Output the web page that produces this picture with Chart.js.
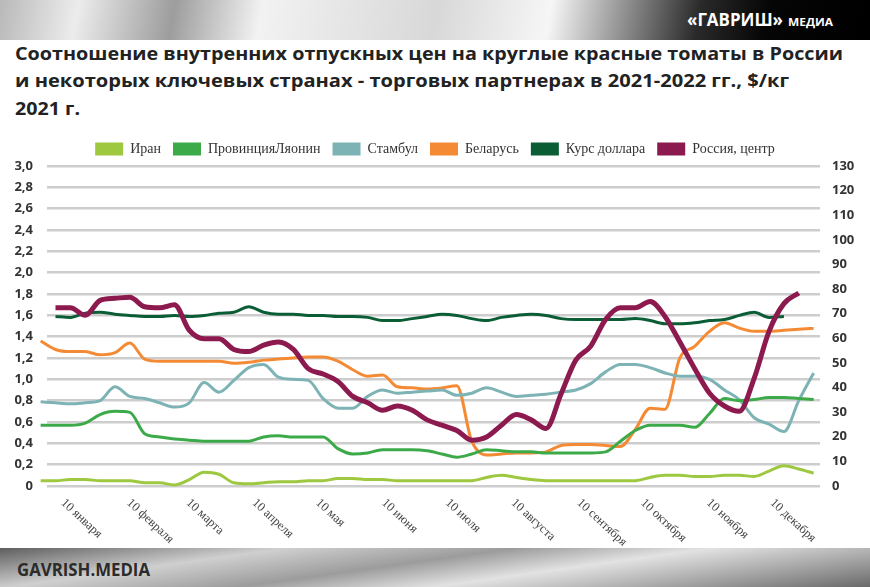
<!DOCTYPE html>
<html>
<head>
<meta charset="utf-8">
<script src="https://cdn.jsdelivr.net/npm/chart.js@4"></script>
<style>
  body { margin: 0; }
  #page { position: relative; width: 870px; height: 587px; overflow: hidden; background: #fff; font-family: "Open Sans", sans-serif; }
  #band-top { position: absolute; left: 0; top: 0; width: 870px; height: 40px;
    background: linear-gradient(100deg, #b8b8b8 0%, #ececec 9%, #9d9d9d 20%, #f2f2f2 30%, #d8d8d8 50%, #f6f6f6 63%, #8a8a8a 72%, #2a2a2a 80%, #050505 88%, #000 100%); }
  #band-bot { position: absolute; left: 0; top: 548px; width: 870px; height: 39px;
    background: linear-gradient(172deg, #5e5e5e 0%, #cfcfcf 25%, #9c9c9c 45%, #e2e2e2 62%, #b0b0b0 78%, #6a6a6a 100%); }
  .fit { position: absolute; white-space: nowrap; transform-origin: 0 50%; font-weight: 700; }
  canvas { position: absolute; left: 0; top: 130px; }
</style>
</head>
<body>
<div id="page">
  <div id="band-top"></div>
  <span class="fit" data-w="96" style="left:687px; top:9px; font-size:17px; line-height:22px; color:#fff;">«ГАВРИШ»</span>
  <span class="fit" data-w="45" style="left:788px; top:14px; font-size:10px; line-height:16px; color:#fff;">МЕДИА</span>

  <span class="fit" data-w="828" style="left:15px; top:42px; font-size:18px; line-height:22px; color:#222;">Соотношение внутренних отпускных цен на круглые красные томаты в России</span>
  <span class="fit" data-w="774" style="left:15px; top:69px; font-size:18px; line-height:22px; color:#222;">и некоторых ключевых странах - торговых партнерах в 2021-2022 гг., $/кг</span>
  <span class="fit" data-w="65" style="left:15px; top:97px; font-size:18px; line-height:22px; color:#222;">2021 г.</span>

  <canvas id="chart" width="870" height="418"></canvas>

  <div id="band-bot"></div>
  <span class="fit" data-w="133" style="left:17px; top:558px; font-size:18px; line-height:22px; color:#2b2b2b;">GAVRISH.MEDIA</span>
</div>

<script>
// weekly samples, day of year (0 = 1 Jan 2021)
const days = [0, 7, 14, 21, 28, 35, 42, 49, 56, 63, 70, 77, 84, 91, 98, 105, 112, 119, 126, 133,
  140, 147, 154, 161, 168, 175, 182, 189, 196, 203, 210, 217, 224, 231, 238, 245, 252, 259, 266,
  273, 280, 287, 294, 301, 308, 315, 322, 329, 336, 343, 350, 357, 364];

// tick labels on the 10th of each month
const monthDays = [9, 40, 68, 99, 129, 160, 190, 221, 252, 282, 313, 343];
const monthLabels = ['10 января', '10 февраля', '10 марта', '10 апреля', '10 мая', '10 июня',
  '10 июля', '10 августа', '10 сентября', '10 октября', '10 ноября', '10 декабря'];

const iran = [0.05, 0.05, 0.06, 0.06, 0.05, 0.05, 0.05, 0.03, 0.03, 0.01, 0.06, 0.13, 0.11, 0.03,
  0.02, 0.03, 0.04, 0.04, 0.05, 0.05, 0.07, 0.07, 0.06, 0.06, 0.05, 0.05, 0.05, 0.05, 0.05, 0.05,
  0.08, 0.10, 0.08, 0.06, 0.05, 0.05, 0.05, 0.05, 0.05, 0.05, 0.05, 0.08, 0.10, 0.10, 0.09, 0.09,
  0.10, 0.10, 0.09, 0.14, 0.19, 0.16, 0.12];

const liaoning = [0.57, 0.57, 0.57, 0.59, 0.67, 0.70, 0.69, 0.49, 0.46, 0.44, 0.43, 0.42, 0.42, 0.42,
  0.42, 0.46, 0.47, 0.46, 0.46, 0.46, 0.35, 0.30, 0.31, 0.34, 0.34, 0.34, 0.33, 0.30, 0.27, 0.30,
  0.34, 0.33, 0.32, 0.32, 0.31, 0.31, 0.31, 0.31, 0.32, 0.42, 0.52, 0.57, 0.57, 0.57, 0.55, 0.68,
  0.82, 0.80, 0.81, 0.83, 0.83, 0.82, 0.81];

const istanbul = [0.79, 0.78, 0.77, 0.78, 0.80, 0.93, 0.84, 0.82, 0.78, 0.74, 0.78, 0.97, 0.88, 0.99,
  1.11, 1.14, 1.02, 1.00, 0.99, 0.82, 0.73, 0.73, 0.84, 0.90, 0.87, 0.88, 0.89, 0.90, 0.85, 0.87,
  0.92, 0.88, 0.84, 0.85, 0.86, 0.88, 0.90, 0.96, 1.07, 1.14, 1.14, 1.11, 1.06, 1.03, 1.03, 1.00,
  0.90, 0.81, 0.64, 0.58, 0.51, 0.80, 1.06];

const belarus = [1.36, 1.28, 1.26, 1.26, 1.23, 1.25, 1.34, 1.19, 1.17, 1.17, 1.17, 1.17, 1.17, 1.15,
  1.16, 1.18, 1.19, 1.20, 1.21, 1.21, 1.17, 1.09, 1.03, 1.04, 0.93, 0.92, 0.91, 0.92, 0.94, 0.42,
  0.29, 0.30, 0.31, 0.31, 0.32, 0.38, 0.39, 0.39, 0.38, 0.37, 0.53, 0.73, 0.72, 1.20, 1.31, 1.45,
  1.53, 1.48, 1.45, 1.45, 1.46, 1.47, 1.48];

// rub per usd, right axis
const dollar = [null, 68.9, 68.5, 70.2, 70.6, 69.8, 69.3, 68.9, 68.9, 69.3, 68.9, 69.3, 70.2, 70.6,
  72.8, 70.6, 69.8, 69.8, 69.3, 69.3, 68.9, 68.9, 68.5, 67.2, 67.2, 68.0, 68.9, 69.8, 69.3, 68.0,
  67.2, 68.5, 69.3, 69.8, 69.3, 68.0, 67.6, 67.6, 67.6, 67.6, 68.0, 67.2, 65.9, 65.9, 66.3, 67.2,
  67.6, 69.3, 70.6, 68.5, 68.9, null, null];

const russia = [null, 1.67, 1.67, 1.60, 1.74, 1.76, 1.77, 1.68, 1.67, 1.70, 1.46, 1.38, 1.38, 1.28,
  1.26, 1.32, 1.35, 1.28, 1.10, 1.05, 0.98, 0.84, 0.78, 0.71, 0.75, 0.71, 0.62, 0.57, 0.52, 0.43,
  0.46, 0.57, 0.67, 0.62, 0.54, 0.86, 1.18, 1.31, 1.56, 1.67, 1.67, 1.73, 1.59, 1.35, 1.10, 0.87,
  0.75, 0.70, 1.01, 1.45, 1.71, 1.81, null];

function pts(values) {
  return days.map((d, i) => ({ x: d, y: values[i] }));
}

function line(label, values, color, width, axis, order) {
  return {
    label: label,
    data: pts(values),
    borderColor: color,
    backgroundColor: color,
    borderWidth: width,
    pointRadius: 0,
    cubicInterpolationMode: 'monotone',
    yAxisID: axis,
    clip: false,
    order: order
  };
}

const tickFont = { family: '"Open Sans", sans-serif', size: 13, weight: 'bold' };

// rotated month labels under the axis
const monthLabelPlugin = {
  id: 'monthLabels',
  afterDraw(chart) {
    const ctx = chart.ctx;
    const xs = chart.scales.x;
    const bottom = chart.chartArea.bottom;
    ctx.save();
    ctx.font = '12.5px "Liberation Serif", serif';
    ctx.fillStyle = '#444';
    ctx.textAlign = 'left';
    ctx.textBaseline = 'middle';
    monthDays.forEach((d, i) => {
      ctx.save();
      ctx.translate(xs.getPixelForValue(d) + 3, bottom + 15);
      ctx.rotate(43 * Math.PI / 180);
      ctx.fillText(monthLabels[i], 0, 0);
      ctx.restore();
    });
    ctx.restore();
  }
};

new Chart(document.getElementById('chart'), {
  type: 'line',
  data: {
    datasets: [
      line('Иран', iran, '#9dc83f', 3, 'y', 1),
      line('ПровинцияЛяонин', liaoning, '#3daa4a', 3, 'y', 1),
      line('Стамбул', istanbul, '#7db3b5', 3, 'y', 1),
      line('Беларусь', belarus, '#f58a35', 3, 'y', 1),
      line('Курс доллара', dollar, '#0b5d36', 3, 'y1', 1),
      line('Россия, центр', russia, '#8c1a4f', 5, 'y', 0)
    ]
  },
  options: {
    responsive: false,
    animation: false,
    layout: { padding: { top: 0, left: 0, right: 0, bottom: 0 } },
    plugins: {
      tooltip: { enabled: false },
      legend: {
        position: 'top',
        labels: {
          boxWidth: 28,
          boxHeight: 13,
          padding: 12,
          color: '#333',
          font: { family: '"Liberation Serif", "DejaVu Serif", serif', size: 14 },
          generateLabels(chart) {
            const items = Chart.defaults.plugins.legend.labels.generateLabels(chart);
            items.forEach(it => { it.lineWidth = 0; });
            return items.sort((a, b) => a.datasetIndex - b.datasetIndex);
          }
        }
      }
    },
    scales: {
      x: {
        type: 'linear',
        min: 3,
        max: 367,
        grid: { display: false },
        border: { display: false },
        ticks: { display: false },
        afterFit(s) { s.height = 62; }
      },
      y: {
        position: 'left',
        min: 0,
        max: 3,
        ticks: {
          stepSize: 0.2,
          padding: 14,
          color: '#333',
          font: tickFont,
          callback: v => v === 0 ? '0' : v.toFixed(1).replace('.', ',')
        },
        grid: { color: '#cdcdcd', lineWidth: 2.5, drawTicks: false },
        border: { display: false },
        afterFit(s) { s.width = 47; }
      },
      y1: {
        position: 'right',
        min: 0,
        max: 130,
        ticks: { stepSize: 10, padding: 12, color: '#333', font: tickFont },
        grid: { display: false, drawTicks: false },
        border: { display: false },
        afterFit(s) { s.width = 50; }
      }
    }
  },
  plugins: [monthLabelPlugin]
});

// squeeze the header texts to the widths of the original
document.querySelectorAll('.fit').forEach(el => {
  const w = el.getBoundingClientRect().width;
  el.style.transform = 'scaleX(' + (Number(el.dataset.w) / w) + ')';
});
</script>
</body>
</html>
